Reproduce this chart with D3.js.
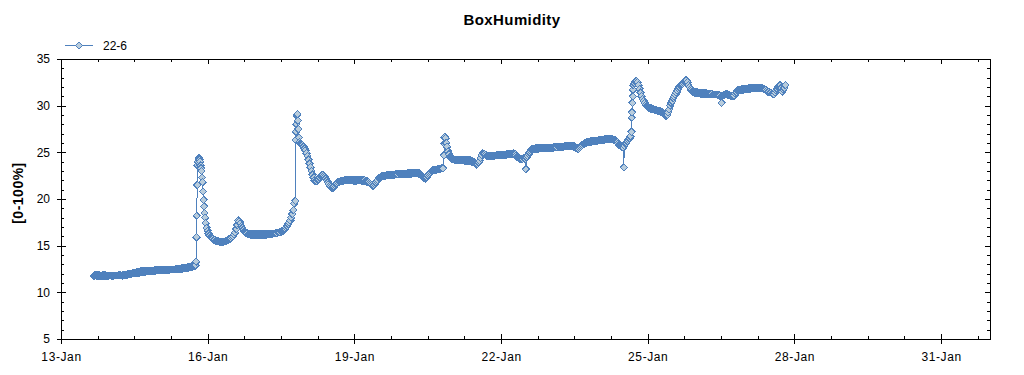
<!DOCTYPE html>
<html>
<head>
<meta charset="utf-8">
<script src="https://cdn.jsdelivr.net/npm/d3@7"></script>
<style>
  body { margin: 0; background: #fff; }
  text { font-family: "Liberation Sans", Arial, sans-serif; fill: #000; }
  .axis text { font-size: 12px; }
  .axis line { stroke: #000; shape-rendering: crispEdges; }
  .axis path { display: none; }
</style>
</head>
<body>
<div id="chart"></div>
<script>
// half-hourly readings of sensor 22-6, one array per day
// (first entry = start hour given in dailyReadings, null = slot covered by extra readings)
var jan13 = [11.75, 11.8, 11.85, 11.8, 11.8, 11.8, 11.8, 11.75, 11.75, 11.8, 11.8, 11.8, 11.8, 11.75, 11.75, 11.8];
var jan14 = [11.8, 11.8, 11.75, 11.75, 11.8, 11.8, 11.8, 11.8, 11.8, 11.85, 11.85, 11.8,
  11.8, 11.85, 11.85, 11.85, 11.9, 11.9, 11.95, 11.95, 12.0, 12.0, 12.05, 12.05,
  12.1, 12.1, 12.1, 12.1, 12.15, 12.15, 12.2, 12.2, 12.2, 12.2, 12.25, 12.25,
  12.3, 12.3, 12.3, 12.3, 12.3, 12.3, 12.3, 12.3, 12.35, 12.35, 12.35, 12.35];
var jan15 = [12.35, 12.35, 12.35, 12.35, 12.35, 12.4, 12.4, 12.4, 12.4, 12.4, 12.4, 12.45,
  12.45, 12.45, 12.45, 12.45, 12.45, 12.5, 12.5, 12.5, 12.5, 12.5, 12.55, 12.55,
  12.6, 12.6, 12.6, 12.6, 12.65, 12.65, 12.7, 12.7, 12.75, 12.75, 12.8, 12.85,
  12.9, null, 23.6, 24.3, 24.2, 23.6, 23.0, 21.8, 19.9, 18.5, 17.4, 16.9];
var jan16 = [16.6, 16.3, 16.1, 15.9, 15.8, 15.7, 15.65, 15.6, 15.5, 15.5, 15.45, 15.45,
  15.4, 15.4, 15.4, 15.4, 15.45, 15.45, 15.5, 15.55, 15.6, 15.7, 15.75, 15.8,
  15.9, 16.0, 16.2, 16.4, 16.8, 17.2, 17.7, 17.6, 17.4, 17.1, 16.9, 16.7,
  16.5, 16.4, 16.35, 16.3, 16.25, 16.25, 16.2, 16.2, 16.2, 16.2, 16.2, 16.2];
var jan17 = [16.2, 16.2, 16.2, 16.2, 16.2, 16.2, 16.2, 16.2, 16.2, 16.2, 16.2, 16.25,
  16.25, 16.25, 16.25, 16.3, 16.3, 16.3, 16.3, 16.35, 16.35, 16.4, 16.4, 16.45,
  16.5, 16.55, 16.6, 16.7, 16.8, 16.95, 17.1, 17.3, 17.5, 17.7, 18.0, 18.4,
  18.8, 19.5, 19.8, 28.0, 29.1, 27.5, 26.1, 26.0, 25.9, 25.8, 25.6, 25.4];
var jan18 = [25.2, 24.9, 24.6, 24.2, 23.8, 23.4, 23.0, 22.6, 22.3, 22.0, 21.9, 21.9,
  22.0, 22.1, 22.3, 22.5, 22.6, 22.6, 22.5, 22.4, 22.2, 22.0, 21.8, 21.6,
  21.4, 21.3, 21.2, 21.2, 21.3, 21.45, 21.6, 21.7, 21.8, 21.85, 21.9, 21.9,
  21.95, 21.95, 22.0, 22.0, 22.0, 22.0, 22.0, 22.0, 22.05, 22.05, 22.05, 22.0];
var jan19 = [22.0, 22.0, 22.0, 22.05, 22.05, 22.05, 22.05, 22.0, 22.0, 22.0, 22.0, 21.95,
  21.9, 21.85, 21.8, 21.7, 21.6, 21.5, 21.4, 21.45, 21.6, 21.75, 21.9, 22.05,
  22.2, 22.3, 22.4, 22.45, 22.5, 22.5, 22.5, 22.5, 22.55, 22.55, 22.6, 22.6,
  22.6, 22.6, 22.6, 22.6, 22.65, 22.65, 22.65, 22.65, 22.7, 22.7, 22.7, 22.7];
var jan20 = [22.7, 22.7, 22.7, 22.7, 22.75, 22.75, 22.75, 22.75, 22.75, 22.8, 22.8, 22.8,
  22.8, 22.8, 22.8, 22.75, 22.7, 22.6, 22.5, 22.4, 22.3, 22.25, 22.2, 22.3,
  22.5, 22.65, 22.8, 22.9, 23.0, 23.05, 23.1, 23.1, 23.15, 23.15, 23.2, 23.2,
  23.25, 23.25, 23.3, 23.3, 24.7, 26.7, 26.0, 25.6, 25.1, 24.8, 24.5, 24.4];
var jan21 = [24.3, 24.25, 24.2, 24.2, 24.2, 24.2, 24.2, 24.2, 24.15, 24.15, 24.2, 24.2,
  24.15, 24.15, 24.1, 24.1, 24.1, 24.1, 24.1, 24.05, 24.0, 23.95, 23.9, 23.8,
  23.7, 23.75, 23.9, 24.1, 24.4, 24.7, 24.9, 24.85, 24.8, 24.7, 24.6, 24.6,
  24.6, 24.6, 24.6, 24.6, 24.6, 24.6, 24.65, 24.65, 24.7, 24.7, 24.7, 24.7];
var jan22 = [24.7, 24.7, 24.75, 24.75, 24.75, 24.75, 24.8, 24.8, 24.8, 24.8, 24.85, 24.85,
  24.9, 24.85, 24.8, 24.65, 24.5, 24.4, 24.3, 24.3, 24.3, 24.3, 24.4, 24.35,
  24.3, 24.45, 24.6, 24.8, 25.0, 25.15, 25.3, 25.3, 25.35, 25.35, 25.4, 25.4,
  25.4, 25.4, 25.45, 25.45, 25.45, 25.45, 25.5, 25.5, 25.5, 25.5, 25.5, 25.5];
var jan23 = [25.5, 25.5, 25.5, 25.5, 25.55, 25.55, 25.55, 25.55, 25.6, 25.6, 25.6, 25.6,
  25.6, 25.6, 25.65, 25.65, 25.65, 25.7, 25.7, 25.7, 25.7, 25.7, 25.7, 25.65,
  25.6, 25.5, 25.45, 25.4, 25.4, 25.5, 25.6, 25.7, 25.8, 25.9, 25.95, 26.0,
  26.05, 26.1, 26.1, 26.1, 26.15, 26.15, 26.2, 26.2, 26.2, 26.2, 26.25, 26.25];
var jan24 = [26.3, 26.3, 26.3, 26.3, 26.35, 26.35, 26.4, 26.4, 26.4, 26.4, 26.45, 26.45,
  26.4, 26.4, 26.35, 26.35, 26.3, 26.2, 26.1, 25.95, 25.8, 25.7, 25.6, 25.55,
  25.5, 25.7, 25.9, 26.0, 26.2, 26.35, 26.5, 26.7, 27.2, 30.3, 32.2, 32.4,
  32.6, 32.6, 32.5, 32.2, 31.8, 31.4, 31.0, 30.7, 30.5, 30.3, 30.1, 30.0];
var jan25 = [29.9, 29.8, 29.75, 29.7, 29.7, 29.65, 29.6, 29.55, 29.5, 29.5, 29.45, 29.45,
  29.4, 29.35, 29.3, 29.2, 29.1, 29.0, 28.9, 29.0, 29.3, 29.6, 30.0, 30.3,
  30.5, 30.8, 31.0, 31.2, 31.4, 31.6, 31.8, 32.0, 32.2, 32.25, 32.3, 32.45,
  32.6, 32.7, 32.7, 32.5, 32.2, 32.0, 31.8, 31.65, 31.5, 31.45, 31.4, 31.4];
var jan26 = [31.4, 31.4, 31.35, 31.35, 31.3, 31.3, 31.3, 31.3, 31.3, 31.3, 31.3, 31.3,
  31.3, 31.25, 31.25, 31.25, 31.2, 31.2, 31.2, 31.2, 31.2, 31.15, 31.1, 31.05,
  31.0, 31.05, 31.1, 31.15, 31.2, 31.2, 31.2, 31.15, 31.1, 31.05, 31.0, 31.0,
  31.0, 31.1, 31.3, 31.45, 31.6, 31.65, 31.7, 31.7, 31.7, 31.75, 31.75, 31.8];
var jan27 = [31.8, 31.8, 31.8, 31.85, 31.85, 31.85, 31.9, 31.9, 31.9, 31.9, 31.9, 31.9,
  31.9, 31.9, 31.9, 31.9, 31.85, 31.85, 31.8, 31.75, 31.7, 31.6, 31.5, 31.5,
  31.4, 31.4, 31.3, 31.25, 31.2, 31.4, 31.6, 31.8, 32.0, 32.1, 32.2, 31.9,
  31.5, 31.7, 31.9, 32.2];

var dailyReadings = [
  ["2021-01-13", 16, jan13], ["2021-01-14", 0, jan14], ["2021-01-15", 0, jan15],
  ["2021-01-16", 0, jan16], ["2021-01-17", 0, jan17], ["2021-01-18", 0, jan18],
  ["2021-01-19", 0, jan19], ["2021-01-20", 0, jan20], ["2021-01-21", 0, jan21],
  ["2021-01-22", 0, jan22], ["2021-01-23", 0, jan23], ["2021-01-24", 0, jan24],
  ["2021-01-25", 0, jan25], ["2021-01-26", 0, jan26], ["2021-01-27", 0, jan27]
];

// extra readings between the half hours (fast changes and outliers)
var extraTimes = [
  "2021-01-15 18:20", "2021-01-15 18:30", "2021-01-15 18:40", "2021-01-15 18:50",
  "2021-01-15 19:15", "2021-01-15 19:45", "2021-01-15 20:15", "2021-01-15 20:45",
  "2021-01-15 21:15", "2021-01-15 21:45", "2021-01-15 22:15", "2021-01-15 22:45",
  "2021-01-17 19:10", "2021-01-17 19:20", "2021-01-17 19:40", "2021-01-17 19:50",
  "2021-01-17 20:15", "2021-01-17 20:45",
  "2021-01-20 20:10", "2021-01-20 20:20", "2021-01-20 20:45",
  "2021-01-22 12:10",
  "2021-01-24 12:15", "2021-01-24 16:10", "2021-01-24 16:20", "2021-01-24 16:40", "2021-01-24 16:50",
  "2021-01-26 12:20"
];
var extraValues = [
  13.3, 15.9, 18.2, 21.5,
  24.0, 24.4, 24.0, 23.3,
  22.3, 20.8, 19.2, 18.0,
  26.3, 27.2, 28.9, 29.0,
  28.4, 26.6,
  25.9, 26.6, 26.5,
  23.2,
  23.4, 28.7, 29.3, 31.0, 31.7,
  30.3
];

var majorDates = ["2021-01-13", "2021-01-16", "2021-01-19", "2021-01-22", "2021-01-25", "2021-01-28", "2021-01-31"];
var yMajor = [5, 10, 15, 20, 25, 30, 35];
var seriesName = "22-6";

var margin = { top: 59, right: 34, bottom: 36, left: 61 };
var width = 1024 - margin.left - margin.right;
var height = 375 - margin.top - margin.bottom;

var parseDay = d3.timeParse("%Y-%m-%d");
var parseTime = d3.timeParse("%Y-%m-%d %H:%M");

var data = [];
dailyReadings.forEach(function(d) {
  var day = parseDay(d[0]);
  d[2].forEach(function(v, i) {
    if (v === null) return;
    data.push({ t: d3.timeMinute.offset(day, d[1] * 60 + i * 30), v: v });
  });
});
extraTimes.forEach(function(s, i) {
  data.push({ t: parseTime(s), v: extraValues[i] });
});
data.sort(function(a, b) { return a.t - b.t; });

var start = parseDay("2021-01-13");
var end = parseDay("2021-02-01");

var x = d3.scaleTime().domain([start, end]).range([0, width]);
var y = d3.scaleLinear().domain([5, 35]).range([height, 0]);

// minor ticks: 4 per 3 days on x, every unit on y
var xMinor = d3.range(0, 19 * 24 + 1, 18).map(function(h) { return d3.timeHour.offset(start, h); });
var yMinor = d3.range(5, 36, 1);
var xMajor = majorDates.map(parseDay);

var svg = d3.select("#chart").append("svg")
  .attr("width", 1024)
  .attr("height", 375);

var g = svg.append("g")
  .attr("transform", "translate(" + margin.left + "," + margin.top + ")");

// title
svg.append("text")
  .attr("x", 512)
  .attr("y", 25)
  .attr("text-anchor", "middle")
  .style("font-size", "15px")
  .style("font-weight", "bold")
  .style("letter-spacing", "0.4px")
  .text("BoxHumidity");

// y label
svg.append("text")
  .attr("transform", "translate(23,193) rotate(-90)")
  .attr("text-anchor", "middle")
  .style("font-size", "14px")
  .style("font-weight", "bold")
  .style("letter-spacing", "0.5px")
  .text("[0-100%]");

// frame
g.append("rect")
  .attr("x", 0.5)
  .attr("y", 0.5)
  .attr("width", width)
  .attr("height", height)
  .attr("fill", "none")
  .attr("stroke", "#000")
  .attr("shape-rendering", "crispEdges");

// bottom axis
g.append("g").attr("class", "axis")
  .attr("transform", "translate(0," + height + ")")
  .call(d3.axisBottom(x).tickValues(xMinor).tickSize(-3).tickFormat(""));
var bx = g.append("g").attr("class", "axis")
  .attr("transform", "translate(0," + height + ")")
  .call(d3.axisBottom(x).tickValues(xMajor).tickSizeInner(5).tickSizeOuter(0).tickPadding(8.5)
    .tickFormat(d3.timeFormat("%d-%b")));
bx.selectAll("line").attr("y1", -5);
bx.selectAll("text").style("letter-spacing", "0.6px");

// top axis
g.append("g").attr("class", "axis")
  .call(d3.axisTop(x).tickValues(xMinor).tickSize(-3).tickFormat(""));
g.append("g").attr("class", "axis")
  .call(d3.axisTop(x).tickValues(xMajor).tickSize(-5).tickFormat(""));

// left axis
g.append("g").attr("class", "axis")
  .call(d3.axisLeft(y).tickValues(yMinor).tickSize(-3).tickFormat(""));
var ly = g.append("g").attr("class", "axis")
  .call(d3.axisLeft(y).tickValues(yMajor).tickSizeInner(4).tickSizeOuter(0).tickPadding(7));
ly.selectAll("line").attr("x1", 5);

// right axis
g.append("g").attr("class", "axis")
  .attr("transform", "translate(" + width + ",0)")
  .call(d3.axisRight(y).tickValues(yMinor).tickSize(-3).tickFormat(""));
g.append("g").attr("class", "axis")
  .attr("transform", "translate(" + width + ",0)")
  .call(d3.axisRight(y).tickValues(yMajor).tickSize(-5).tickFormat(""));

var lineColor = "#4f81bd";
var markerFill = "#b8ccdc";
var diamond = d3.symbol().type(d3.symbolDiamond2).size(34);

var line = d3.line()
  .x(function(d) { return x(d.t); })
  .y(function(d) { return y(d.v); });

g.append("path")
  .datum(data)
  .attr("fill", "none")
  .attr("stroke", lineColor)
  .attr("stroke-width", 1)
  .attr("shape-rendering", "crispEdges")
  .attr("d", line);

// markers drawn without anti-aliasing, like the original chart
g.selectAll(".pt")
  .data(data)
  .enter().append("path")
  .attr("class", "pt")
  .attr("transform", function(d) { return "translate(" + x(d.t) + "," + y(d.v) + ")"; })
  .attr("d", diamond)
  .attr("fill", markerFill)
  .attr("stroke", lineColor)
  .attr("stroke-width", 1)
  .attr("shape-rendering", "crispEdges");

// legend
var legend = svg.append("g").attr("transform", "translate(65,45.5)");
legend.append("line")
  .attr("x1", 0).attr("x2", 28)
  .attr("stroke", lineColor)
  .attr("shape-rendering", "crispEdges");
legend.append("path")
  .attr("transform", "translate(14,0)")
  .attr("d", diamond)
  .attr("fill", markerFill)
  .attr("stroke", lineColor)
  .attr("shape-rendering", "crispEdges");
legend.append("text")
  .attr("x", 38)
  .attr("y", 4.5)
  .style("font-size", "12px")
  .text(seriesName);
</script>
</body>
</html>
